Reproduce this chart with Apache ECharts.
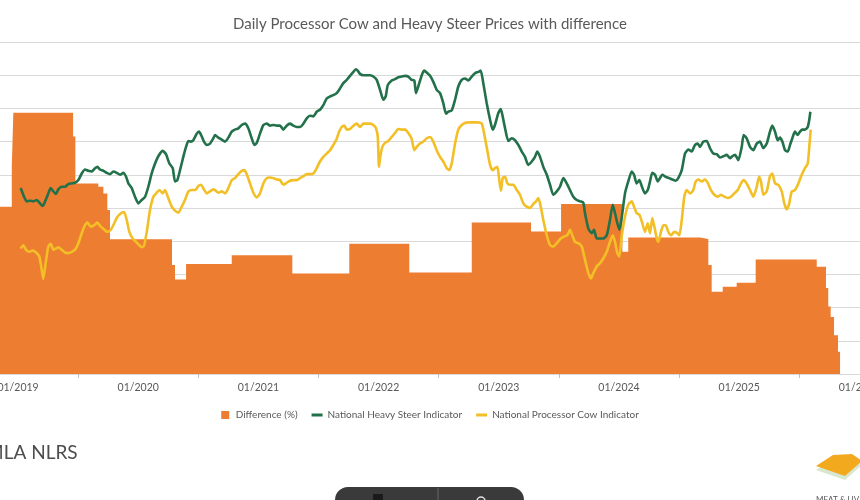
<!DOCTYPE html>
<html>
<head>
<meta charset="utf-8">
<script src="https://cdn.jsdelivr.net/npm/echarts@6/dist/echarts.min.js"></script>
<style>
  html, body { margin: 0; padding: 0; background: #fff; }
  #main { width: 860px; height: 500px; }
</style>
</head>
<body>
<div id="main"></div>
<script>
// x values are decimal years (2019.5 = mid 2019)
var yearLabels = [2019, 2020, 2021, 2022, 2023, 2024, 2025, 2026];
var midYearTicks = [2019.5, 2020.5, 2021.5, 2022.5, 2023.5, 2024.5, 2025.5];

// Difference (%) - stepped, each value holds until the next point
var differenceSteps = [
    [2018.80, 50.4], [2018.948, 62.4], [2018.961, 78.7], [2019.458, 71.5], [2019.477, 57.4],
    [2019.668, 56.4], [2019.710, 54.4], [2019.743, 49.4], [2019.765, 40.6], [2020.281, 32.8],
    [2020.306, 28.5], [2020.398, 33.1], [2020.778, 35.8], [2021.282, 30.3], [2021.756, 39.2],
    [2022.255, 30.6], [2022.775, 45.6], [2023.268, 42.9], [2023.518, 51.2], [2024.028, 36.8],
    [2024.077, 41.1], [2024.674, 40.7], [2024.743, 32.8], [2024.771, 24.8], [2024.863, 26.3],
    [2024.979, 27.5], [2025.137, 34.5], [2025.645, 32.3], [2025.722, 25.9], [2025.741, 20.3],
    [2025.761, 17.2], [2025.789, 11.7], [2025.822, 6.7], [2025.839, 0]
];

// National Heavy Steer Indicator
var heavySteer = [
    [2019.022,280],[2019.050,267],[2019.072,260],[2019.100,261],[2019.127,260],[2019.156,262],[2019.183,257],[2019.205,253],
    [2019.225,260],[2019.252,272],[2019.272,280],[2019.294,275],[2019.316,271],[2019.335,278],[2019.364,282],[2019.391,282],
    [2019.418,286],[2019.447,287],[2019.474,288],[2019.502,292],[2019.530,302],[2019.557,308],[2019.585,306],[2019.613,305],
    [2019.641,310],[2019.660,312],[2019.682,308],[2019.710,306],[2019.738,303],[2019.765,301],[2019.793,305],[2019.821,303],
    [2019.849,300],[2019.876,303],[2019.899,297],[2019.918,287],[2019.946,280],[2019.973,267],[2020.001,257],[2020.029,262],
    [2020.057,267],[2020.084,282],[2020.112,302],[2020.140,317],[2020.167,328],[2020.204,336],[2020.231,331],[2020.259,317],
    [2020.287,310],[2020.306,290],[2020.325,292],[2020.348,307],[2020.375,327],[2020.398,342],[2020.417,351],[2020.437,350],
    [2020.458,352],[2020.487,362],[2020.506,365],[2020.528,358],[2020.547,350],[2020.570,345],[2020.597,347],[2020.625,355],
    [2020.639,360],[2020.666,356],[2020.695,353],[2020.722,350],[2020.750,356],[2020.778,365],[2020.805,368],[2020.833,370],
    [2020.861,375],[2020.889,377],[2020.916,370],[2020.944,355],[2020.966,345],[2020.986,348],[2021.013,362],[2021.041,375],
    [2021.069,377],[2021.097,374],[2021.124,375],[2021.152,374],[2021.180,374],[2021.207,368],[2021.235,374],[2021.263,377],
    [2021.290,374],[2021.319,372],[2021.346,372],[2021.374,377],[2021.402,385],[2021.429,389],[2021.457,388],[2021.485,395],
    [2021.512,398],[2021.540,405],[2021.568,415],[2021.596,418],[2021.623,420],[2021.651,423],[2021.679,430],[2021.706,438],
    [2021.735,443],[2021.762,449],[2021.790,455],[2021.810,459],[2021.826,457],[2021.845,452],[2021.873,450],[2021.901,450],
    [2021.929,450],[2021.956,448],[2021.984,443],[2022.012,428],[2022.039,413],[2022.059,418],[2022.076,435],[2022.109,442],
    [2022.136,444],[2022.164,447],[2022.192,448],[2022.220,449],[2022.247,448],[2022.275,443],[2022.297,442],[2022.311,423],
    [2022.330,433],[2022.359,450],[2022.380,457],[2022.400,454],[2022.428,449],[2022.455,440],[2022.483,428],[2022.511,423],
    [2022.538,408],[2022.561,392],[2022.580,395],[2022.608,397],[2022.636,413],[2022.663,433],[2022.691,443],[2022.719,445],
    [2022.746,442],[2022.775,448],[2022.802,453],[2022.829,455],[2022.849,457],[2022.871,438],[2022.899,408],[2022.927,383],
    [2022.949,368],[2022.968,375],[2022.996,393],[2023.016,399],[2023.032,388],[2023.052,370],[2023.079,351],[2023.107,355],
    [2023.135,352],[2023.162,345],[2023.191,335],[2023.218,327],[2023.245,315],[2023.274,320],[2023.301,327],[2023.320,335],
    [2023.343,327],[2023.370,312],[2023.399,300],[2023.426,285],[2023.453,270],[2023.482,275],[2023.509,282],[2023.537,295],
    [2023.565,287],[2023.592,277],[2023.620,267],[2023.648,262],[2023.676,260],[2023.703,258],[2023.717,242],[2023.745,219],
    [2023.773,212],[2023.792,217],[2023.815,204],[2023.842,204],[2023.869,204],[2023.898,209],[2023.925,232],[2023.948,255],
    [2023.967,242],[2023.986,227],[2024.003,217],[2024.022,235],[2024.050,272],[2024.077,290],[2024.106,305],[2024.125,300],
    [2024.147,287],[2024.169,292],[2024.191,282],[2024.216,272],[2024.239,277],[2024.258,290],[2024.277,303],[2024.300,300],
    [2024.322,290],[2024.341,295],[2024.360,300],[2024.389,297],[2024.416,295],[2024.443,293],[2024.472,291],[2024.493,295],
    [2024.522,307],[2024.549,332],[2024.577,338],[2024.605,335],[2024.632,345],[2024.655,347],[2024.674,342],[2024.701,350],
    [2024.730,351],[2024.757,340],[2024.785,332],[2024.813,331],[2024.840,326],[2024.868,328],[2024.896,330],[2024.924,325],
    [2024.943,328],[2024.965,330],[2024.993,322],[2025.021,342],[2025.037,360],[2025.062,355],[2025.090,342],[2025.117,337],
    [2025.146,347],[2025.173,350],[2025.201,340],[2025.229,347],[2025.256,365],[2025.275,374],[2025.298,365],[2025.320,352],
    [2025.339,356],[2025.359,350],[2025.381,337],[2025.404,335],[2025.423,345],[2025.442,355],[2025.464,365],[2025.487,360],
    [2025.506,365],[2025.525,368],[2025.547,368],[2025.570,372],[2025.583,383],[2025.592,395]
];

// National Processor Cow Indicator
var processorCow = [
    [2019.022,189],[2019.044,194],[2019.067,187],[2019.094,184],[2019.122,186],[2019.150,183],[2019.177,177],[2019.197,157],
    [2019.210,143],[2019.230,167],[2019.252,192],[2019.272,196],[2019.294,187],[2019.316,189],[2019.335,191],[2019.364,187],
    [2019.391,183],[2019.418,182],[2019.447,184],[2019.474,187],[2019.502,197],[2019.530,212],[2019.557,224],[2019.577,228],
    [2019.605,222],[2019.632,224],[2019.660,228],[2019.688,222],[2019.715,218],[2019.743,214],[2019.771,217],[2019.793,224],
    [2019.821,235],[2019.849,241],[2019.882,244],[2019.904,232],[2019.926,214],[2019.954,204],[2019.982,199],[2020.009,194],
    [2020.029,191],[2020.048,193],[2020.071,214],[2020.098,247],[2020.126,267],[2020.154,273],[2020.176,277],[2020.204,272],
    [2020.223,277],[2020.250,265],[2020.279,252],[2020.306,246],[2020.334,243],[2020.362,252],[2020.389,262],[2020.417,275],
    [2020.445,277],[2020.473,277],[2020.500,283],[2020.522,285],[2020.547,278],[2020.570,272],[2020.597,275],[2020.625,278],
    [2020.639,277],[2020.666,273],[2020.695,275],[2020.722,272],[2020.750,280],[2020.778,292],[2020.805,295],[2020.833,301],
    [2020.861,306],[2020.883,307],[2020.903,301],[2020.930,287],[2020.958,273],[2020.986,266],[2021.013,272],[2021.041,287],
    [2021.069,295],[2021.097,296],[2021.124,295],[2021.152,293],[2021.180,292],[2021.207,285],[2021.235,288],[2021.263,291],
    [2021.290,292],[2021.319,292],[2021.346,295],[2021.374,298],[2021.402,301],[2021.429,301],[2021.457,302],[2021.485,310],
    [2021.512,320],[2021.540,327],[2021.568,332],[2021.596,337],[2021.623,345],[2021.651,354],[2021.671,365],[2021.693,372],
    [2021.715,374],[2021.735,368],[2021.762,369],[2021.790,374],[2021.818,377],[2021.845,372],[2021.873,377],[2021.901,377],
    [2021.929,377],[2021.956,375],[2021.978,370],[2021.993,357],[2022.003,312],[2022.014,327],[2022.031,342],[2022.053,348],
    [2022.081,351],[2022.109,357],[2022.136,363],[2022.164,369],[2022.192,368],[2022.220,368],[2022.247,363],[2022.275,354],
    [2022.297,337],[2022.317,342],[2022.344,347],[2022.372,350],[2022.400,355],[2022.428,357],[2022.455,350],[2022.483,337],
    [2022.511,327],[2022.538,320],[2022.567,310],[2022.588,307],[2022.608,317],[2022.636,347],[2022.663,368],[2022.691,375],
    [2022.719,378],[2022.746,379],[2022.775,379],[2022.802,379],[2022.829,379],[2022.858,377],[2022.877,363],[2022.904,337],
    [2022.927,315],[2022.949,307],[2022.968,310],[2022.988,312],[2023.004,292],[2023.018,276],[2023.032,295],[2023.052,297],
    [2023.071,287],[2023.093,285],[2023.121,285],[2023.149,277],[2023.176,270],[2023.204,257],[2023.232,252],[2023.260,250],
    [2023.287,256],[2023.310,260],[2023.329,265],[2023.349,252],[2023.370,232],[2023.399,209],[2023.426,194],[2023.453,192],
    [2023.482,197],[2023.515,204],[2023.542,207],[2023.570,209],[2023.592,217],[2023.615,207],[2023.634,199],[2023.661,197],
    [2023.690,192],[2023.717,172],[2023.745,152],[2023.767,144],[2023.786,152],[2023.815,162],[2023.842,167],[2023.869,174],
    [2023.898,184],[2023.925,199],[2023.948,209],[2023.967,199],[2023.986,182],[2024.003,177],[2024.022,207],[2024.050,237],
    [2024.077,255],[2024.106,260],[2024.125,252],[2024.147,242],[2024.169,240],[2024.191,229],[2024.216,214],[2024.239,227],
    [2024.258,212],[2024.277,235],[2024.294,222],[2024.314,204],[2024.327,199],[2024.349,214],[2024.369,224],[2024.389,224],
    [2024.410,214],[2024.433,209],[2024.460,214],[2024.480,213],[2024.502,209],[2024.522,232],[2024.543,267],[2024.563,277],
    [2024.591,272],[2024.618,277],[2024.638,290],[2024.660,293],[2024.688,290],[2024.715,293],[2024.738,288],[2024.765,277],
    [2024.793,270],[2024.821,267],[2024.849,270],[2024.876,267],[2024.904,265],[2024.932,267],[2024.959,272],[2024.988,277],
    [2025.015,287],[2025.037,292],[2025.062,287],[2025.090,277],[2025.117,267],[2025.146,282],[2025.165,297],[2025.181,290],
    [2025.201,270],[2025.229,275],[2025.256,298],[2025.275,302],[2025.298,287],[2025.325,285],[2025.354,275],[2025.375,257],
    [2025.395,248],[2025.414,255],[2025.437,275],[2025.464,277],[2025.492,287],[2025.520,300],[2025.547,310],[2025.570,317],
    [2025.583,342],[2025.595,368]
];

var textGrey = '#595959';
var fontName = 'Lato, "Liberation Sans", sans-serif';
var lineIcon = 'path://M0,0 H11 V3 H0 Z';

var myChart = echarts.init(document.getElementById('main'));

var option = {
    animation: false,
    backgroundColor: '#ffffff',
    title: {
        text: 'Daily Processor Cow and Heavy Steer Prices with difference',
        left: 'center',
        top: 12,
        textStyle: { fontSize: 15, fontWeight: 'normal', color: textGrey, fontFamily: fontName }
    },
    legend: {
        top: 405,
        left: 'center',
        itemGap: 14,
        itemWidth: 11,
        itemHeight: 8,
        textStyle: { fontSize: 10, color: textGrey, fontFamily: fontName },
        data: [
            { name: 'Difference (%)', icon: 'path://M0,0 H8 V8 H0 Z' },
            { name: 'National Heavy Steer Indicator', icon: lineIcon },
            { name: 'National Processor Cow Indicator', icon: lineIcon }
        ]
    },
    grid: { left: 0, right: 0, top: 42, bottom: 126, containLabel: false, outerBoundsMode: 'none' },
    xAxis: {
        type: 'value',
        min: 2018.85,
        max: 2026.005,
        splitLine: { show: false },
        axisLine: { lineStyle: { color: '#d9d9d9' } },
        axisTick: { show: true, customValues: midYearTicks, length: 4, lineStyle: { color: '#bfbfbf' } },
        axisLabel: {
            customValues: yearLabels,
            margin: 8,
            fontSize: 10.5,
            color: textGrey,
            fontFamily: fontName,
            formatter: function (v) { return '01/' + Math.round(v); }
        }
    },
    yAxis: [
        {   // difference (%)
            type: 'value', min: 0, max: 100, interval: 10,
            axisLabel: { show: false }, axisLine: { show: false }, axisTick: { show: false },
            splitLine: { lineStyle: { color: '#d9d9d9', width: 1.2 } }
        },
        {   // prices
            type: 'value', min: 0, max: 500, interval: 50,
            axisLabel: { show: false }, axisLine: { show: false }, axisTick: { show: false },
            splitLine: { show: false }
        }
    ],
    series: [
        {
            name: 'Difference (%)',
            type: 'line',
            yAxisIndex: 0,
            step: 'end',
            symbol: 'none',
            data: differenceSteps,
            itemStyle: { color: '#ED7D31' },
            lineStyle: { width: 0, color: '#ED7D31' },
            areaStyle: { color: '#ED7D31', opacity: 1 },
            z: 1
        },
        {
            name: 'National Heavy Steer Indicator',
            type: 'line',
            yAxisIndex: 1,
            symbol: 'none',
            smooth: 0.2,
            data: heavySteer,
            itemStyle: { color: '#23714A' },
            lineStyle: { width: 2.6, color: '#23714A' },
            z: 3
        },
        {
            name: 'National Processor Cow Indicator',
            type: 'line',
            yAxisIndex: 1,
            symbol: 'none',
            smooth: 0.2,
            data: processorCow,
            itemStyle: { color: '#F2BF26' },
            lineStyle: { width: 2.6, color: '#F2BF26' },
            z: 2
        }
    ],
    graphic: [
        {   // source caption, cropped at left edge
            type: 'text', x: -14, y: 443,
            style: { text: 'MLA NLRS', font: '19px Lato, sans-serif', fill: '#4d4d4d' }
        },
        {   // video controls bar at the bottom
            type: 'rect', x: 335, y: 487, shape: { width: 189, height: 30, r: 13 },
            style: { fill: '#3a3a3a' }
        },
        {
            type: 'line', shape: { x1: 438, y1: 488, x2: 438, y2: 500 },
            style: { stroke: '#666', lineWidth: 1 }
        },
        {
            type: 'rect', x: 373, y: 494, shape: { width: 10, height: 8 },
            style: { fill: '#1a1a1a' }
        },
        {
            type: 'circle', shape: { cx: 481, cy: 501, r: 4 },
            style: { fill: 'none', stroke: '#ddd', lineWidth: 1.5 }
        },
        {   // logo
            type: 'polygon', shape: { points: [[816, 470], [833, 459], [852, 458], [862, 465], [845, 480]] },
            style: { fill: '#d8e7cf' }
        },
        {
            type: 'polygon', shape: { points: [[816, 466], [833, 455], [852, 454], [862, 461], [845, 476]] },
            style: { fill: '#F2A91E' }
        },
        {
            type: 'text', x: 816, y: 495,
            style: { text: 'MEAT & LIVESTOCK', font: '8px Lato, sans-serif', fill: '#555' }
        }
    ]
};

myChart.setOption(option);
</script>
</body>
</html>
